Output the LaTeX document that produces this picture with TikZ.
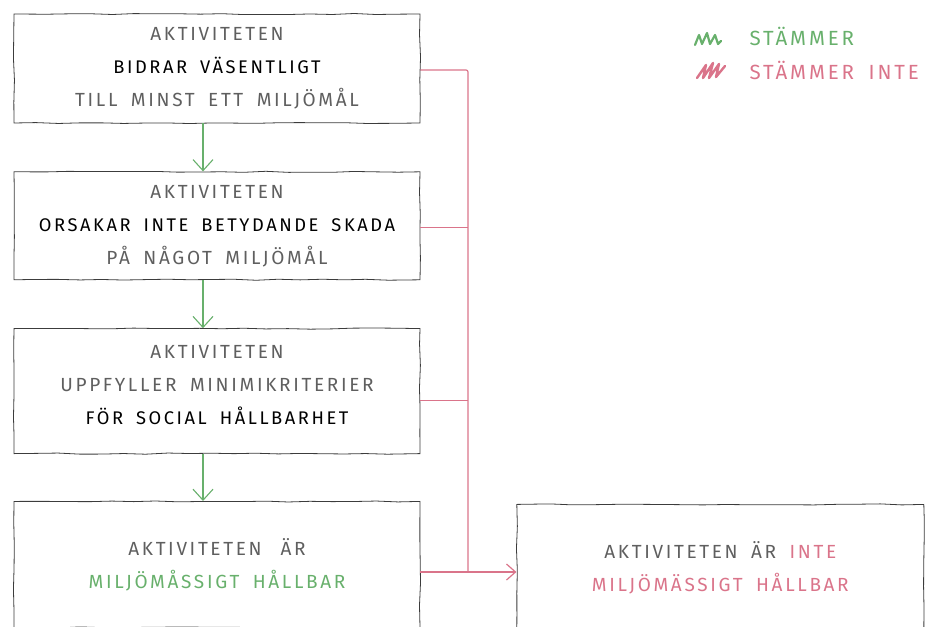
\documentclass[tikz,border=0pt]{standalone}
\usepackage{fontspec}
\setmainfont{Fira Sans}[LetterSpace=14, WordSpace=1.75]
\usetikzlibrary{positioning,arrows.meta,decorations.pathmorphing}
\definecolor{jagreen}{RGB}{104,176,108}
\definecolor{nejred}{RGB}{218,116,138}
\definecolor{penna}{RGB}{60,60,60}
\definecolor{blyerts}{RGB}{95,95,95}
\tikzset{
	ruta/.style={draw=penna, line width=0.8pt, decorate, decoration={random steps, segment length=22pt, amplitude=0.6pt}, minimum width=406pt, align=center, text=blyerts, font=\fontsize{19}{33}\selectfont},
	ja/.style={draw=jagreen, line width=1.1pt, -{Straight Barb[length=11pt, width=20pt]}},
	nej/.style={draw=nejred, line width=1.2pt},
	legend/.style={anchor=west, font=\fontsize{20.5}{24}\selectfont}
}
\newcommand{\svart}[1]{{\color{black}\fontsize{18.3}{33}\selectfont #1}}
\newcommand{\gron}[1]{{\color{jagreen}#1}}
\newcommand{\rod}[1]{{\color{nejred}#1}}

\begin{document}
\begin{tikzpicture}[x=1pt, y=-1pt]
			%%%%% START %%%%%
			\useasboundingbox (0,0) rectangle (925,626);
			
			\node[ruta, minimum height=109pt] (bidrar) at (217,68.5) {AKTIVITETEN\\\svart{BIDRAR VÄSENTLIGT}\\TILL MINST ETT MILJÖMÅL};
			\node[ruta, minimum height=108pt, below=48pt of bidrar] (skada) {AKTIVITETEN\\\svart{ORSAKAR INTE BETYDANDE SKADA}\\PÅ NÅGOT MILJÖMÅL};
			\node[ruta, minimum height=125pt, below=48pt of skada] (social) {AKTIVITETEN\\UPPFYLLER MINIMIKRITERIER\\\svart{FÖR SOCIAL HÅLLBARHET}\\[-20pt]{}};
			\node[ruta, minimum height=126pt, below=47pt of social] (hallbar) {AKTIVITETEN\quad ÄR\\\gron{MILJÖMÅSSIGT HÅLLBAR}};
			\node[ruta, minimum height=126pt, minimum width=407pt, right=96pt of hallbar, yshift=-3pt] (ejhallbar) {AKTIVITETEN ÄR \rod{INTE}\\\rod{MILJÖMÄSSIGT HÅLLBAR}};
			
			% gröna pilar
			\draw[ja] ([xshift=-14pt]bidrar.south) -- ([xshift=-14pt]skada.north);
			\draw[ja] ([xshift=-14pt]skada.south) -- ([xshift=-14pt]social.north);
			\draw[ja] ([xshift=-14pt]social.south) -- ([xshift=-14pt]hallbar.north);
			
			% röda linjer
			\coordinate (buss) at (468,572);
			\draw[nej, rounded corners=2pt] ([yshift=-1.5pt]bidrar.east) -| (buss);
			\draw[nej] ([yshift=-2pt]skada.east) -- ([yshift=-2pt]skada.east -| buss);
			\draw[nej] ([yshift=-9pt]social.east) -- ([yshift=-9pt]social.east -| buss);
			\draw[nej, -{Straight Barb[length=9pt, width=16pt]}] (hallbar.east |- buss) -- (ejhallbar.west |- buss);
			
			% förklaring
			\draw[jagreen, line width=2.2pt, line join=round, line cap=round] (695,45) -- (699,35) -- (702,44) -- (707,33) -- (710,44) -- (715,35) -- (718,44) -- (721,41);
			\draw[nejred, line width=2.4pt, line join=round, line cap=round] (697,78) -- (706,65) -- (703,78) -- (713,63) -- (709,78) -- (719,64) -- (716,77) -- (725,66);
			\node[legend, text=jagreen] (stammer) at (746,36) {STÄMMER};
			\node[legend, text=nejred] (stammerinte) at (746,70) {STÄMMER INTE};
			
			%%%%% END %%%%%
\end{tikzpicture}
\end{document}
